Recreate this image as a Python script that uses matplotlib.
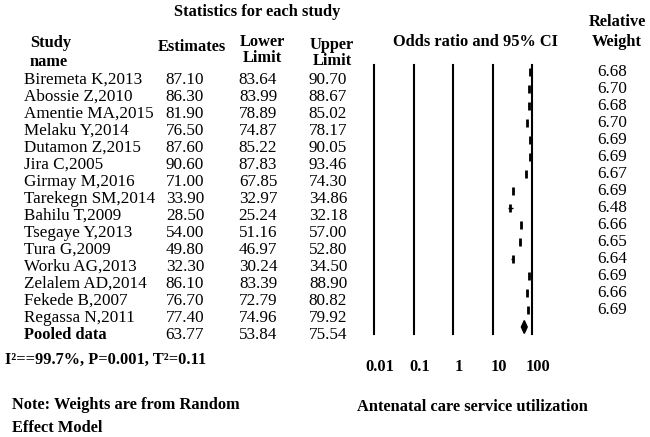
#forest plot of antenatal care service utilization

import matplotlib
matplotlib.use('Agg')
import matplotlib.pyplot as plt

studies = ['Biremeta K,2013', 'Abossie Z,2010', 'Amentie MA,2015', 'Melaku Y,2014',
           'Dutamon Z,2015', 'Jira C,2005', 'Girmay M,2016', 'Tarekegn SM,2014',
           'Bahilu T,2009', 'Tsegaye Y,2013', 'Tura G,2009', 'Worku AG,2013',
           'Zelalem AD,2014', 'Fekede B,2007', 'Regassa N,2011']
est = [87.10, 86.30, 81.90, 76.50, 87.60, 90.60, 71.00, 33.90, 28.50, 54.00,
       49.80, 32.30, 86.10, 76.70, 77.40]
lower = [83.64, 83.99, 78.89, 74.87, 85.22, 87.83, 67.85, 32.97, 25.24, 51.16,
         46.97, 30.24, 83.39, 72.79, 74.96]
upper = [90.70, 88.67, 85.02, 78.17, 90.05, 93.46, 74.30, 34.86, 32.18, 57.00,
         52.80, 34.50, 88.90, 80.82, 79.92]
weights = [6.68, 6.70, 6.68, 6.70, 6.69, 6.69, 6.67, 6.69, 6.48, 6.66, 6.65,
           6.64, 6.69, 6.66, 6.69]
pooled = (63.77, 53.84, 75.54)
ticks = [0.01, 0.1, 1, 10, 100]
tick_labels = ['0.01', '0.1', '1', '10', '100']

plt.rcParams['font.family'] = ['Liberation Serif', 'DejaVu Serif']
W, H = 650, 437
fig = plt.figure(figsize=(6.5, 4.37), dpi=100)
fig.patch.set_facecolor('white')

# text layer in pixel coordinates
tx = fig.add_axes([0, 0, 1, 1])
tx.set_xlim(0, W)
tx.set_ylim(H, 0)
tx.axis('off')
fs = 12.3
hfs = 11.8

def bold(x, y, s, ha='center'):
    tx.text(x, y, s, ha=ha, va='center', fontsize=hfs, fontweight='bold')

bold(257, 12, 'Statistics for each study')
bold(30, 43, 'Study', ha='left')
bold(30, 62, 'name', ha='left')
bold(192, 47, 'Estimates')
bold(262, 42, 'Lower')
bold(262, 58, 'Limit')
bold(332, 45, 'Upper')
bold(332, 61, 'Limit')
bold(475, 42, 'Odds ratio and 95% CI')
bold(617, 22, 'Relative')
bold(617, 42, 'Weight')

row0, dy = 80, 17.0
for i in range(len(studies)):
    y = row0 + dy * i
    tx.text(24, y, studies[i], ha='left', va='center', fontsize=fs)
    tx.text(185, y, '%.2f' % est[i], ha='center', va='center', fontsize=fs)
    tx.text(258, y, '%.2f' % lower[i], ha='center', va='center', fontsize=fs)
    tx.text(328, y, '%.2f' % upper[i], ha='center', va='center', fontsize=fs)
    tx.text(612, y - 8, '%.2f' % weights[i], ha='center', va='center', fontsize=fs)
yp = row0 + dy * len(studies)
tx.text(24, yp, 'Pooled data', ha='left', va='center', fontsize=hfs, fontweight='bold')
tx.text(185, yp, '%.2f' % pooled[0], ha='center', va='center', fontsize=fs)
tx.text(258, yp, '%.2f' % pooled[1], ha='center', va='center', fontsize=fs)
tx.text(328, yp, '%.2f' % pooled[2], ha='center', va='center', fontsize=fs)

bold(5, 360, 'I\u00b2==99.7%, P=0.001, T\u00b2=0.11', ha='left')
bold(12, 405, 'Note: Weights are from Random', ha='left')
bold(12, 428, 'Effect Model', ha='left')
bold(472, 407, 'Antenatal care service utilization')

# forest panel
x0, x1, ytop, ybot = 374, 532, 65, 334
mrow0 = 72
ax = fig.add_axes([x0 / W, 1 - ybot / H, (x1 - x0) / W, (ybot - ytop) / H])
ax.set_xscale('log')
ax.set_xlim(0.01, 100)
ax.set_ylim((ybot - mrow0) / dy, (ytop - mrow0) / dy)
ax.axis('off')
for t in ticks:
    ax.axvline(t, color='black', lw=1.5, clip_on=False)

rows = list(range(len(studies)))
ax.hlines(rows, lower, upper, color='black', lw=1)
ax.plot(est, rows, ls='none', marker='|', ms=6, mew=2, color='black')

pr = len(studies)
h = 0.38
ax.fill([pooled[1], pooled[0], pooled[2], pooled[0]], [pr, pr - h, pr, pr + h],
        color='black', clip_on=False)

for k, lab in enumerate(tick_labels):
    bold(x0 + (x1 - x0) * k / (len(ticks) - 1) + 6, 367, lab)

fig.savefig('out.png', dpi=100, facecolor='white')
